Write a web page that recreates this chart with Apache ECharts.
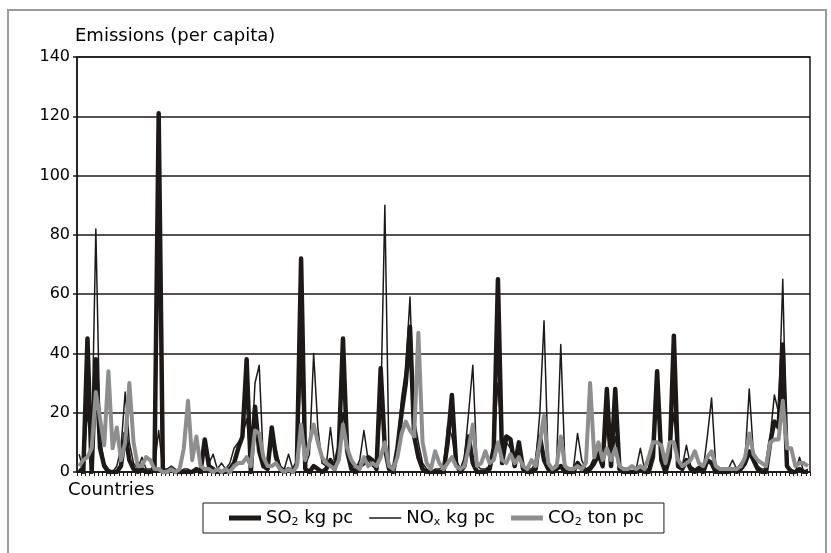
<!DOCTYPE html>
<html>
<head>
<meta charset="utf-8">
<script src="https://cdn.jsdelivr.net/npm/echarts@6/dist/echarts.min.js"></script>
<style>
  html, body { margin: 0; padding: 0; background: #fff; }
  #chart { width: 831px; height: 553px; }
</style>
</head>
<body>
<div id="chart"></div>
<script>
// countries (175 of them, unnamed on the axis)
var countries = [];
for (var c = 1; c <= 175; c++) countries.push('C' + c);

// SO2 kg per capita
var so2 = [
  1, 0, 45, 0, 38, 8, 2, 0, 0, 0,
  2, 13, 4, 1, 0, 1, 0, 0, 1, 121,
  0, 0, 1, 0, 0, 0, 0, 0, 1, 0,
  11, 2, 1, 0, 0, 0, 1, 3, 8, 12,
  38, 0, 22, 7, 2, 1, 15, 5, 1, 0,
  1, 0, 3, 72, 1, 0, 2, 1, 0, 1,
  4, 1, 8, 45, 7, 1, 0, 2, 3, 5,
  4, 1, 35, 8, 1, 0, 8, 20, 30, 49,
  12, 5, 1, 0, 0, 0, 0, 0, 10, 26,
  3, 0, 2, 12, 3, 0, 0, 0, 1, 8,
  65, 3, 12, 11, 2, 10, 1, 0, 0, 1,
  12, 4, 1, 0, 1, 2, 0, 0, 0, 3,
  1, 0, 1, 3, 6, 2, 28, 2, 28, 1,
  0, 0, 0, 0, 1, 0, 0, 5, 34, 4,
  0, 5, 46, 2, 1, 4, 1, 0, 1, 0,
  4, 3, 0, 0, 0, 0, 1, 0, 1, 3,
  7, 4, 1, 0, 0, 10, 17, 15, 43, 2,
  0, 0, 1, 0, 0
];

// NOx kg per capita
var nox = [
  6, 1, 20, 8, 82, 12, 3, 1, 0, 2,
  8, 27, 10, 3, 1, 5, 1, 1, 2, 14,
  1, 1, 2, 1, 0, 1, 1, 0, 1, 1,
  9, 3, 6, 1, 3, 1, 3, 8, 10, 12,
  18, 3, 30, 36, 3, 2, 9, 8, 2, 1,
  6, 1, 2, 35, 2, 6, 40, 15, 3, 2,
  15, 3, 5, 20, 9, 3, 1, 4, 14, 4,
  2, 1, 20, 90, 3, 1, 10, 25, 35, 59,
  18, 10, 3, 1, 0, 1, 1, 2, 16, 12,
  4, 1, 5, 20, 36, 2, 1, 1, 2, 10,
  30, 5, 10, 8, 4, 6, 2, 1, 1, 3,
  20, 51, 3, 1, 3, 43, 2, 1, 1, 13,
  4, 1, 2, 5, 7, 3, 15, 3, 12, 1,
  0, 0, 0, 1, 8, 1, 1, 10, 34, 5,
  1, 6, 20, 3, 2, 9, 2, 1, 2, 1,
  12, 25, 2, 0, 0, 1, 4, 1, 3, 5,
  28, 6, 2, 1, 1, 12, 26, 20, 65, 2,
  1, 0, 5, 0, 1
];

// CO2 ton per capita
var co2 = [
  2, 4, 5, 8, 27, 18, 9, 34, 8, 15,
  4, 10, 30, 10, 2, 2, 5, 4, 1, 1,
  0, 0, 1, 0, 1, 8, 24, 4, 12, 2,
  1, 1, 0, 1, 0, 1, 0, 2, 3, 3,
  5, 2, 14, 13, 5, 2, 2, 3, 1, 0,
  1, 0, 2, 16, 4, 10, 16, 10, 5, 3,
  2, 1, 4, 16, 8, 4, 2, 1, 5, 2,
  3, 2, 5, 10, 2, 1, 5, 13, 17, 14,
  12, 47, 10, 3, 1, 7, 3, 1, 3, 5,
  2, 1, 2, 8, 16, 2, 3, 7, 3, 4,
  10, 4, 3, 6, 3, 5, 2, 1, 4, 2,
  10, 19, 3, 1, 2, 12, 2, 1, 1, 2,
  1, 3, 30, 5, 10, 4, 8, 4, 8, 2,
  1, 1, 2, 1, 2, 1, 5, 10, 10, 9,
  3, 10, 10, 4, 2, 3, 4, 7, 3, 2,
  5, 7, 2, 1, 1, 1, 1, 1, 2, 5,
  13, 6, 4, 3, 2, 10, 11, 11, 24, 8,
  8, 2, 3, 3, 2
];

var seriesNames = ['SO2 kg pc', 'NOx kg pc', 'CO2 ton pc'];
var legendLabels = ['SO{s|2} kg pc', 'NO{s|x} kg pc', 'CO{s|2} ton pc'];
var yTicks = [0, 20, 40, 60, 80, 100, 120, 140];

var ink = '#1d1917', grey = '#8e8e8e';
var font = "'DejaVu Sans', Verdana, sans-serif";

var chart = echarts.init(document.getElementById('chart'));
chart.setOption({
  animation: false,
  textStyle: { fontFamily: font },
  grid: { left: 77, right: 21, top: 57, bottom: 81, show: true, borderColor: ink, borderWidth: 1.5 },
  graphic: [
    // outer figure frame
    { type: 'rect', shape: { x: 8, y: 10, width: 818, height: 580 }, style: { fill: 'none', stroke: '#9a9a9a', lineWidth: 2 } },
    { type: 'text', left: 75, top: 27, style: { text: 'Emissions (per capita)', font: "18px " + font, fill: '#000' } },
    { type: 'text', left: 68, top: 481, style: { text: 'Countries', font: "18px " + font, fill: '#000' } }
  ],
  legend: {
    bottom: 20,
    left: 203,
    itemGap: 16,
    itemWidth: 32,
    itemHeight: 14,
    padding: [5, 20, 5, 26],
    borderColor: ink,
    borderWidth: 1,
    borderRadius: 0,
    data: [
      { name: seriesNames[0], icon: 'path://M0,0h32v5h-32z' },
      { name: seriesNames[1], icon: 'path://M0,0h32v1.6h-32z' },
      { name: seriesNames[2], icon: 'path://M0,0h32v5h-32z' }
    ],
    formatter: function (name) { return legendLabels[seriesNames.indexOf(name)]; },
    textStyle: {
      fontSize: 18, color: '#000', lineHeight: 20,
      rich: { s: { fontSize: 11, lineHeight: 12, verticalAlign: 'bottom', padding: [6, 0, 0, 0] } }
    }
  },
  xAxis: {
    type: 'category',
    data: countries,
    boundaryGap: true,
    axisLine: { lineStyle: { color: ink, width: 1.5 } },
    axisTick: { show: true, interval: 0, length: 4, lineStyle: { color: ink, width: 1 } },
    axisLabel: { show: false },
    splitLine: { show: false }
  },
  yAxis: {
    type: 'value',
    min: yTicks[0],
    max: yTicks[yTicks.length - 1],
    interval: 20,
    axisLine: { show: true, lineStyle: { color: ink, width: 1.5 } },
    axisTick: { show: true, length: 4, lineStyle: { color: ink, width: 1.5 } },
    axisLabel: { fontSize: 16, color: '#000', margin: 7 },
    splitLine: { lineStyle: { color: ink, width: 1.5 } }
  },
  series: [
    { name: seriesNames[0], type: 'line', data: so2, symbol: 'none', color: ink,
      lineStyle: { width: 4.5, color: ink, join: 'round' } },
    { name: seriesNames[1], type: 'line', data: nox, symbol: 'none', color: ink,
      lineStyle: { width: 1.5, color: ink, join: 'round' } },
    { name: seriesNames[2], type: 'line', data: co2, symbol: 'none', color: grey,
      lineStyle: { width: 4, color: grey, join: 'round' } }
  ]
});
</script>
</body>
</html>
